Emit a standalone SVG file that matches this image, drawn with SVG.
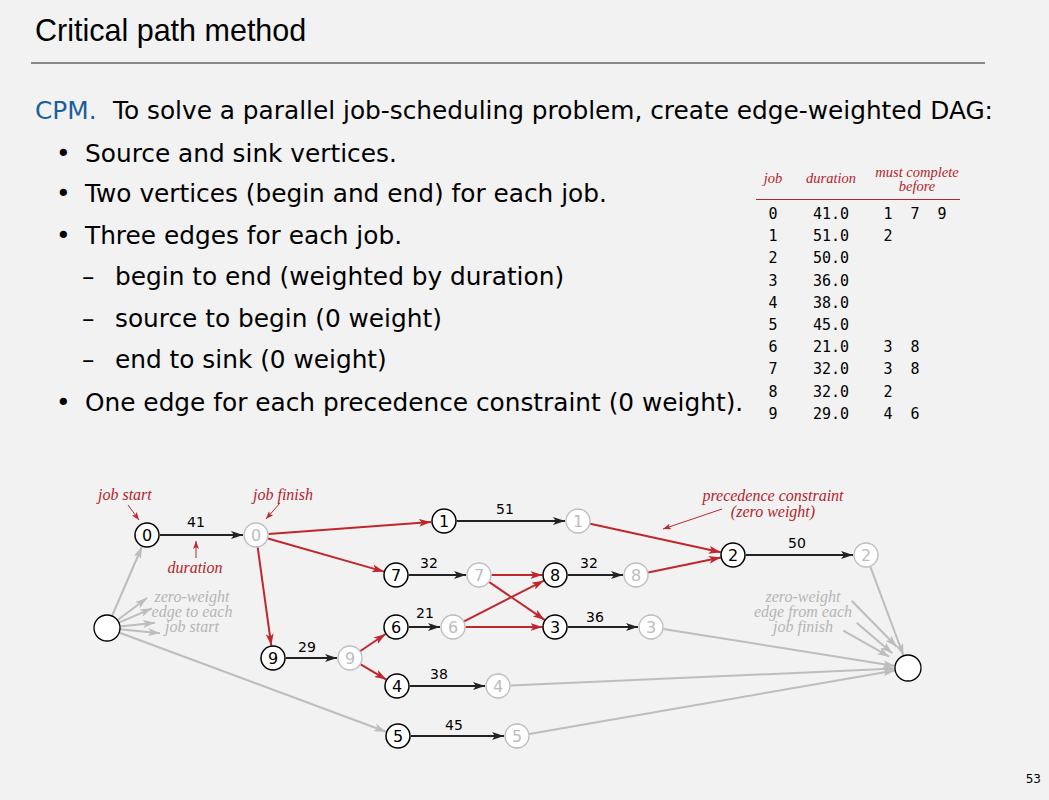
<svg xmlns="http://www.w3.org/2000/svg" width="1049" height="800" viewBox="0 0 1049 800">
<defs>
<style>
.bg{fill:#f2f2f2}
.title{font-family:"Liberation Sans",Arial,sans-serif;font-size:30.5px;fill:#000}
.body{font-family:"DejaVu Sans",sans-serif;font-size:24.8px;fill:#000}
.blue{fill:#1b5e9c}
.th{font-family:"Liberation Serif",serif;font-style:italic;font-size:14.5px;fill:#b3242b}
.td{font-family:"DejaVu Sans Mono","Liberation Mono",monospace;font-size:15px;fill:#000}
.ann{font-family:"Liberation Serif",serif;font-style:italic;font-size:16px;fill:#b3242b}
.gann{font-family:"Liberation Serif",serif;font-style:italic;font-size:16px;fill:#b5b5b5;text-anchor:middle}
.nb circle{fill:#fff;stroke:#000;stroke-width:1.5}
.nb text{font-family:"DejaVu Sans",sans-serif;font-size:16px;fill:#000;text-anchor:middle}
.ne circle{fill:#fff;stroke:#bdbdbd;stroke-width:1.3}
.ne text{font-family:"DejaVu Sans",sans-serif;font-size:16px;fill:#bdbdbd;text-anchor:middle}
.ns circle{fill:#fff;stroke:#000;stroke-width:1.3}
.w{font-family:"DejaVu Sans",sans-serif;font-size:14px;fill:#000;text-anchor:middle}
.job{stroke:#222;stroke-width:2;fill:none;marker-end:url(#ab)}
.pre{stroke:#c0272d;stroke-width:2;fill:none;marker-end:url(#ar)}
.gry{stroke:#bdbdbd;stroke-width:2;fill:none;marker-end:url(#ag)}
.thin{stroke:#c0272d;stroke-width:1;fill:none;marker-end:url(#as)}
</style>
<marker id="ab" viewBox="0 0 12 8" refX="12" refY="4" markerWidth="12" markerHeight="8" markerUnits="userSpaceOnUse" orient="auto"><path d="M0,0 L12,4 L0,8 L3,4 z" fill="#222"/></marker>
<marker id="ar" viewBox="0 0 12 8" refX="12" refY="4" markerWidth="12" markerHeight="8" markerUnits="userSpaceOnUse" orient="auto"><path d="M0,0 L12,4 L0,8 L3,4 z" fill="#c0272d"/></marker>
<marker id="ag" viewBox="0 0 12 8" refX="12" refY="4" markerWidth="12" markerHeight="8" markerUnits="userSpaceOnUse" orient="auto"><path d="M0,0 L12,4 L0,8 L3,4 z" fill="#bdbdbd"/></marker>
<marker id="as" viewBox="0 0 8 6" refX="8" refY="3" markerWidth="8" markerHeight="6" markerUnits="userSpaceOnUse" orient="auto"><path d="M0,0 L8,3 L0,6 L2,3 z" fill="#c0272d"/></marker>
</defs>
<rect class="bg" x="0" y="0" width="1049" height="800"/>

<g id="header">
<text class="title" x="35" y="41">Critical path method</text>
<line x1="31" y1="63" x2="985" y2="63" stroke="#666" stroke-width="1.5"/>
</g>

<g id="bullets">
<text class="body" x="35" y="119"><tspan class="blue">CPM.</tspan><tspan x="113">To solve a parallel job-scheduling problem, create edge-weighted DAG:</tspan></text>
<text class="body" x="56" y="162">•</text><text class="body" x="85" y="162">Source and sink vertices.</text>
<text class="body" x="56" y="202">•</text><text class="body" x="85" y="202">Two vertices (begin and end) for each job.</text>
<text class="body" x="56" y="244">•</text><text class="body" x="85" y="244">Three edges for each job.</text>
<text class="body" x="82" y="285">–</text><text class="body" x="115" y="285">begin to end (weighted by duration)</text>
<text class="body" x="82" y="327">–</text><text class="body" x="115" y="327">source to begin (0 weight)</text>
<text class="body" x="82" y="368">–</text><text class="body" x="115" y="368">end to sink (0 weight)</text>
<text class="body" x="56" y="411">•</text><text class="body" x="85" y="411">One edge for each precedence constraint (0 weight).</text>
</g>

<g id="table">
<text class="th" x="773" y="183" text-anchor="middle">job</text>
<text class="th" x="831" y="183" text-anchor="middle">duration</text>
<text class="th" x="917" y="177" text-anchor="middle">must complete</text>
<text class="th" x="917" y="191" text-anchor="middle">before</text>
<line x1="756" y1="199.5" x2="960" y2="199.5" stroke="#b3242b" stroke-width="1"/>
<g class="td">
<text x="773" y="219" text-anchor="middle">0</text><text x="813" y="219">41.0</text><text x="888" y="219" text-anchor="middle">1</text><text x="915" y="219" text-anchor="middle">7</text><text x="942" y="219" text-anchor="middle">9</text>
<text x="773" y="241.2" text-anchor="middle">1</text><text x="813" y="241.2">51.0</text><text x="888" y="241.2" text-anchor="middle">2</text>
<text x="773" y="263.4" text-anchor="middle">2</text><text x="813" y="263.4">50.0</text>
<text x="773" y="285.6" text-anchor="middle">3</text><text x="813" y="285.6">36.0</text>
<text x="773" y="307.8" text-anchor="middle">4</text><text x="813" y="307.8">38.0</text>
<text x="773" y="330" text-anchor="middle">5</text><text x="813" y="330">45.0</text>
<text x="773" y="352.2" text-anchor="middle">6</text><text x="813" y="352.2">21.0</text><text x="888" y="352.2" text-anchor="middle">3</text><text x="915" y="352.2" text-anchor="middle">8</text>
<text x="773" y="374.4" text-anchor="middle">7</text><text x="813" y="374.4">32.0</text><text x="888" y="374.4" text-anchor="middle">3</text><text x="915" y="374.4" text-anchor="middle">8</text>
<text x="773" y="396.6" text-anchor="middle">8</text><text x="813" y="396.6">32.0</text><text x="888" y="396.6" text-anchor="middle">2</text>
<text x="773" y="418.8" text-anchor="middle">9</text><text x="813" y="418.8">29.0</text><text x="888" y="418.8" text-anchor="middle">4</text><text x="915" y="418.8" text-anchor="middle">6</text>
</g>
</g>

<g id="connectors">
<!-- gray zero-weight edges -->
<line class="gry" x1="112" y1="616" x2="142" y2="546.5"/>
<line class="gry" x1="119" y1="632.5" x2="386" y2="731.7"/>
<line class="gry" x1="117.4" y1="620.2" x2="147" y2="598"/>
<line class="gry" x1="118.9" y1="622.7" x2="152" y2="608.3"/>
<line class="gry" x1="119.9" y1="626.5" x2="155" y2="622.7"/>
<line class="gry" x1="119.9" y1="629.2" x2="160" y2="633.3"/>
<line class="gry" x1="870.3" y1="566.7" x2="903.5" y2="655.5"/>
<line class="gry" x1="663.3" y1="629" x2="895" y2="666"/>
<line class="gry" x1="510.5" y1="685.5" x2="895" y2="668.6"/>
<line class="gry" x1="529.3" y1="733.9" x2="895" y2="670.4"/>
<line class="gry" x1="851.7" y1="600.7" x2="896.7" y2="646.7"/>
<line class="gry" x1="856.7" y1="622.7" x2="892.3" y2="653.3"/>
<line class="gry" x1="843.3" y1="630.7" x2="889.3" y2="656.7"/>
<!-- job edges -->
<line class="job" x1="160" y1="535" x2="243" y2="535"/>
<line class="job" x1="457" y1="521" x2="565" y2="521"/>
<line class="job" x1="409" y1="575" x2="466" y2="575"/>
<line class="job" x1="568" y1="575" x2="623" y2="575"/>
<line class="job" x1="409" y1="627" x2="440" y2="627"/>
<line class="job" x1="568" y1="627" x2="638" y2="627"/>
<line class="job" x1="286" y1="658" x2="337" y2="658"/>
<line class="job" x1="410" y1="686" x2="485" y2="686"/>
<line class="job" x1="411" y1="736" x2="504" y2="736"/>
<line class="job" x1="746" y1="555" x2="853" y2="555"/>
<!-- precedence edges -->
<line class="pre" x1="268.5" y1="534" x2="431" y2="522"/>
<line class="pre" x1="268" y1="538.5" x2="384" y2="571.6"/>
<line class="pre" x1="257.7" y1="547.4" x2="271.3" y2="645.6"/>
<line class="pre" x1="590.2" y1="523.7" x2="720.8" y2="552.3"/>
<line class="pre" x1="648.2" y1="572.5" x2="720.8" y2="557.5"/>
<line class="pre" x1="491.5" y1="575" x2="542.5" y2="575"/>
<line class="pre" x1="489.3" y1="582.1" x2="544.7" y2="619.9"/>
<line class="pre" x1="464.1" y1="621.3" x2="543.9" y2="580.7"/>
<line class="pre" x1="465.5" y1="627" x2="542.5" y2="627"/>
<line class="pre" x1="360.4" y1="651" x2="385.6" y2="634"/>
<line class="pre" x1="360.7" y1="664.4" x2="386.3" y2="679.6"/>
<!-- annotation arrows -->
<line class="thin" x1="128" y1="505" x2="139" y2="520"/>
<line class="thin" x1="280" y1="503" x2="266" y2="519"/>
<line class="thin" x1="196" y1="558" x2="196" y2="541"/>
<line class="thin" x1="722" y1="509" x2="663" y2="529"/>
</g>

<g id="weights">
<text class="w" x="196" y="527">41</text>
<text class="w" x="505" y="514">51</text>
<text class="w" x="429" y="568">32</text>
<text class="w" x="589" y="568">32</text>
<text class="w" x="425" y="618">21</text>
<text class="w" x="595" y="622">36</text>
<text class="w" x="307" y="652">29</text>
<text class="w" x="439" y="679">38</text>
<text class="w" x="454" y="730">45</text>
<text class="w" x="797" y="548">50</text>
</g>

<g id="annotations">
<text class="ann" x="98" y="500">job start</text>
<text class="ann" x="253" y="500">job finish</text>
<text class="ann" x="195" y="573" text-anchor="middle">duration</text>
<text class="ann" x="773" y="501" text-anchor="middle" font-size="15.5">precedence constraint</text>
<text class="ann" x="773" y="517" text-anchor="middle" font-size="15.5">(zero weight)</text>
<text class="gann" x="192" y="602">zero-weight</text>
<text class="gann" x="192" y="617">edge to each</text>
<text class="gann" x="192" y="632">job start</text>
<text class="gann" x="803" y="602">zero-weight</text>
<text class="gann" x="803" y="617">edge from each</text>
<text class="gann" x="803" y="632">job finish</text>
</g>

<g id="source" class="ns"><circle cx="107" cy="628" r="13"/></g>
<g id="sink" class="ns"><circle cx="908" cy="668" r="13"/></g>
<g id="b0" class="nb"><circle cx="147" cy="535" r="12"/><text x="147" y="541">0</text></g>
<g id="e0" class="ne"><circle cx="256" cy="535" r="12"/><text x="256" y="541">0</text></g>
<g id="b1" class="nb"><circle cx="444" cy="521" r="12"/><text x="444" y="527">1</text></g>
<g id="e1" class="ne"><circle cx="578" cy="521" r="12"/><text x="578" y="527">1</text></g>
<g id="b7" class="nb"><circle cx="396" cy="575" r="12"/><text x="396" y="581">7</text></g>
<g id="e7" class="ne"><circle cx="479" cy="575" r="12"/><text x="479" y="581">7</text></g>
<g id="b8" class="nb"><circle cx="555" cy="575" r="12"/><text x="555" y="581">8</text></g>
<g id="e8" class="ne"><circle cx="636" cy="575" r="12"/><text x="636" y="581">8</text></g>
<g id="b6" class="nb"><circle cx="396" cy="627" r="12"/><text x="396" y="633">6</text></g>
<g id="e6" class="ne"><circle cx="453" cy="627" r="12"/><text x="453" y="633">6</text></g>
<g id="b3" class="nb"><circle cx="555" cy="627" r="12"/><text x="555" y="633">3</text></g>
<g id="e3" class="ne"><circle cx="651" cy="627" r="12"/><text x="651" y="633">3</text></g>
<g id="b9" class="nb"><circle cx="273" cy="658" r="12"/><text x="273" y="664">9</text></g>
<g id="e9" class="ne"><circle cx="350" cy="658" r="12"/><text x="350" y="664">9</text></g>
<g id="b4" class="nb"><circle cx="397" cy="686" r="12"/><text x="397" y="692">4</text></g>
<g id="e4" class="ne"><circle cx="498" cy="686" r="12"/><text x="498" y="692">4</text></g>
<g id="b5" class="nb"><circle cx="398" cy="736" r="12"/><text x="398" y="742">5</text></g>
<g id="e5" class="ne"><circle cx="517" cy="736" r="12"/><text x="517" y="742">5</text></g>
<g id="b2" class="nb"><circle cx="733" cy="555" r="12"/><text x="733" y="561">2</text></g>
<g id="e2" class="ne"><circle cx="866" cy="555" r="12"/><text x="866" y="561">2</text></g>

<text x="1041" y="783" text-anchor="end" font-family="DejaVu Sans, sans-serif" font-size="12" fill="#000">53</text>
</svg>
